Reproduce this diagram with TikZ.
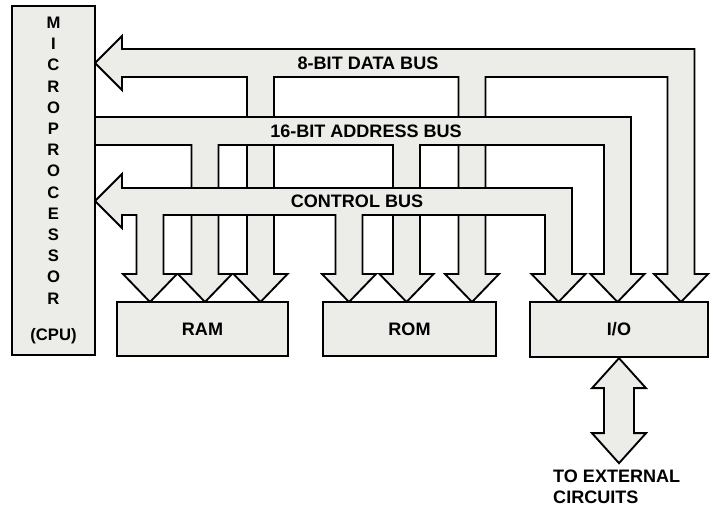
\documentclass[tikz,border=0pt]{standalone}
\usepackage{fontspec}
\setmainfont{Liberation Sans}
\usetikzlibrary{positioning, calc}
\definecolor{busgray}{RGB}{236,236,232}

\newcommand{\drop}[2]{-- (#1+13.5,#2) -- (#1+13.5,274) -- (#1+27,274) -- (#1,302) -- (#1-27,274) -- (#1-13.5,274) -- (#1-13.5,#2)}

\begin{document}
\begin{tikzpicture}[x=0.03cm, y=-0.03cm,
  box/.style={draw, line width=2pt, fill=busgray, inner sep=0pt},
  bus/.style={draw, fill=busgray, line width=1.6pt, line join=miter},
  lbl/.style={font=\fontsize{15.4}{18}\selectfont\bfseries, inner sep=0pt}]
\useasboundingbox[fill=white] (0,0) rectangle (713,508);

\draw[bus] (95,63) -- (122,36) -- (122,49) -- (694.5,49) -- (694.5,274) -- (708,274) -- (681,302) -- (654,274) -- (667.5,274) -- (667.5,77) \drop{472}{77} \drop{260.5}{77} -- (122,77) -- (122,90) -- cycle;
\draw[bus] (95,117) -- (631,117) -- (631,274) -- (644.5,274) -- (617.5,302) -- (590.5,274) -- (604,274) -- (604,145) \drop{406.5}{145} \drop{205}{145} -- (95,145) -- cycle;
\draw[bus] (95,201) -- (122,174) -- (122,188) -- (572,188) -- (572,274) -- (585.5,274) -- (558.5,302) -- (531.5,274) -- (545,274) -- (545,215) \drop{349}{215} \drop{150}{215} -- (122,215) -- (122,228) -- cycle;

\node (cpu) [box, minimum width=2.49cm, minimum height=10.47cm, align=center, font=\fontsize{14.2}{18.1}\selectfont\bfseries] at (53.5,180.5) {M\\I\\C\\R\\O\\P\\R\\O\\C\\E\\S\\S\\O\\R\\[13pt](CPU)};
\node (ram) [box, lbl, minimum width=5.13cm, minimum height=1.62cm] at (202.5,329) {RAM};
\node (rom) [box, lbl, minimum width=5.19cm, minimum height=1.62cm] at (409.5,329) {ROM};
\node (io) [box, lbl, minimum width=5.34cm, minimum height=1.65cm] at (619,329.5) {I/O};

\node (datalbl) [lbl] at (368,63) {8-BIT DATA BUS};
\node (addrlbl) [lbl] at (366,131) {16-BIT ADDRESS BUS};
\node (ctrllbl) [lbl] at (357,201) {CONTROL BUS};
\node (ext) [lbl, align=left, anchor=north west] at (553,470) {TO EXTERNAL\\CIRCUITS};

\draw[bus] (io.south) -- ++(27,30) -- ++(-12,0) -- ++(0,45) -- ++(12,0) -- ++(-27,30) -- ++(-27,-30) -- ++(12,0) -- ++(0,-45) -- ++(-12,0) -- cycle;
\end{tikzpicture}
\end{document}
